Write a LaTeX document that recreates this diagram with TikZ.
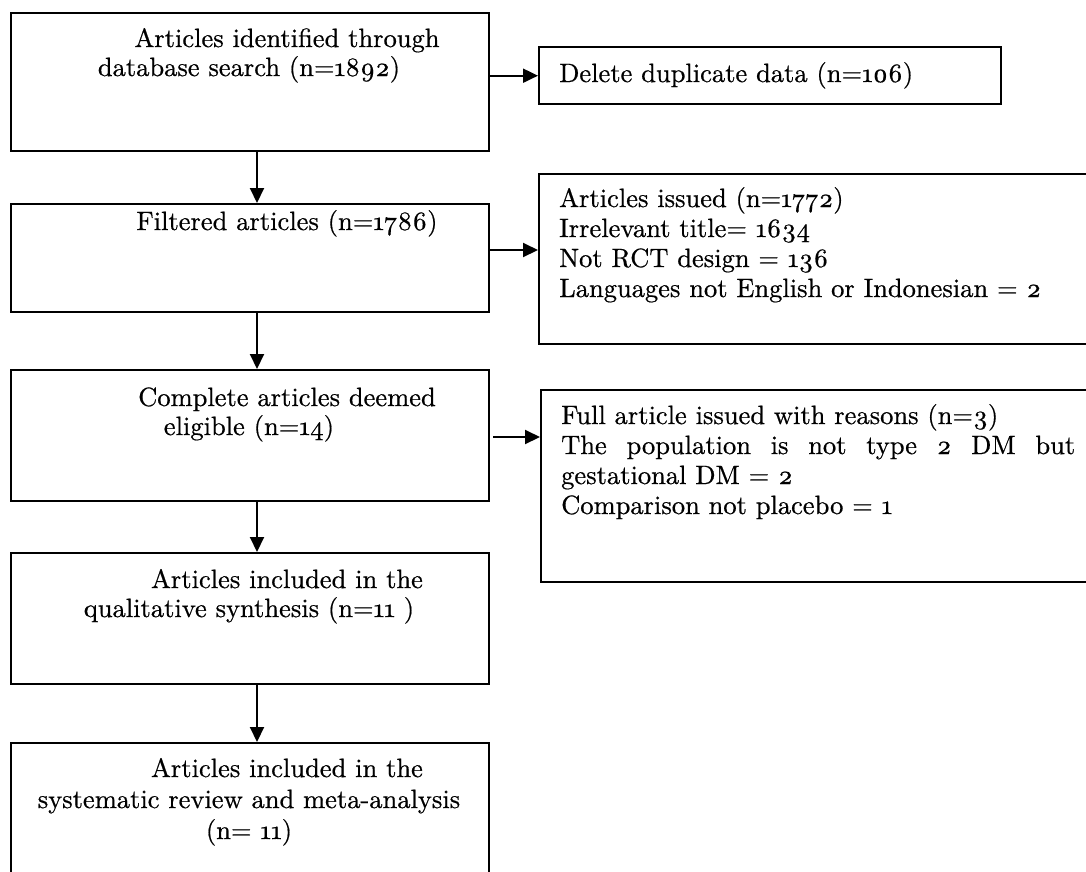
\documentclass[tikz,border=0pt]{standalone}
\usepackage{fontspec}
\setmainfont{lmroman10-regular.otf}[Numbers=OldStyle, FakeBold=0.6, BoldFont=lmroman10-bold.otf, ItalicFont=lmroman10-italic.otf]
\usetikzlibrary{arrows.meta}
\begin{document}
\begin{tikzpicture}[x=1pt,y=-1pt,
  box/.style={draw, line width=2.4pt, inner sep=0pt, anchor=north west},
  txt/.style={inner sep=0pt, font=\fontsize{26.5}{30}\selectfont},
  arr/.style={line width=2pt, -{Triangle[length=15pt,width=14pt]}}]
\useasboundingbox (0,0) rectangle (1086,871);
% boxes
\node[box, minimum width=478pt, minimum height=138pt] (A) at (10,12) {};
\node[box, minimum width=462pt, minimum height=57pt] (B) at (538,46) {};
\node[box, minimum width=478pt, minimum height=108pt] (C) at (10,203) {};
\node[box, minimum width=570pt, minimum height=170pt] (D) at (538,173) {};
\node[box, minimum width=478pt, minimum height=131pt] (E) at (10,369) {};
\node[box, minimum width=570pt, minimum height=192pt] (F) at (540,389) {};
\node[box, minimum width=478pt, minimum height=131pt] (G) at (10,552) {};
\node[box, minimum width=478pt, minimum height=170pt] (H) at (10,742) {};
% texts
\node[txt, anchor=base] (tA1) at (287,47) {Articles identified through};
\node[txt, anchor=base] (tA2) at (249,76) {database search (n=1892)};
\node[txt, anchor=base west] (tB) at (559,82) {Delete duplicate data (n=106)};
\node[txt, anchor=base] (tC) at (287,230) {Filtered articles (n=1786)};
\node[txt, anchor=base west] (tD1) at (559,207) {Articles issued (n=1772)};
\node[txt, anchor=base west] (tD2) at (559,237) {Irrelevant title= 1634};
\node[txt, anchor=base west] (tD3) at (559,267) {Not RCT design = 136};
\node[txt, anchor=base west] (tD4) at (559,297) {Languages not English or Indonesian = 2};
\node[txt, anchor=base] (tE1) at (287,406) {Complete articles deemed};
\node[txt, anchor=base] (tE2) at (249,435) {eligible (n=14)};
\node[txt, anchor=base west] (tF1) at (561,424) {Full article issued with reasons (n=3)};
\node[txt, anchor=base west] (tF2) at (561,454) {\makebox[514pt][s]{The population is not type 2 DM but}};
\node[txt, anchor=base west] (tF3) at (561,484) {gestational DM = 2};
\node[txt, anchor=base west] (tF4) at (561,514) {Comparison not placebo = 1};
\node[txt, anchor=base] (tG1) at (287,588) {Articles included in the};
\node[txt, anchor=base] (tG2) at (249,617) {qualitative synthesis (n=11 )};
\node[txt, anchor=base] (tH1) at (287,777) {Articles included in the};
\node[txt, anchor=base] (tH2) at (249,808) {systematic review and meta-analysis};
\node[txt, anchor=base] (tH3) at (249,839) {(n= 11)};
% connectors
\coordinate (vx) at (257,0);
\coordinate (h2) at (0,250);
\coordinate (h3) at (0,437);
\draw[arr] (A.south -| vx) -- (C.north -| vx);
\draw[arr] (C.south -| vx) -- (E.north -| vx);
\draw[arr] (E.south -| vx) -- (G.north -| vx);
\draw[arr] (G.south -| vx) -- (H.north -| vx);
\draw[arr] (A.east |- B.west) -- (B.west);
\draw[arr] (C.east |- h2) -- (D.west |- h2);
\draw[arr] ([xshift=3pt]E.east |- h3) -- (F.west |- h3);
\end{tikzpicture}
\end{document}
